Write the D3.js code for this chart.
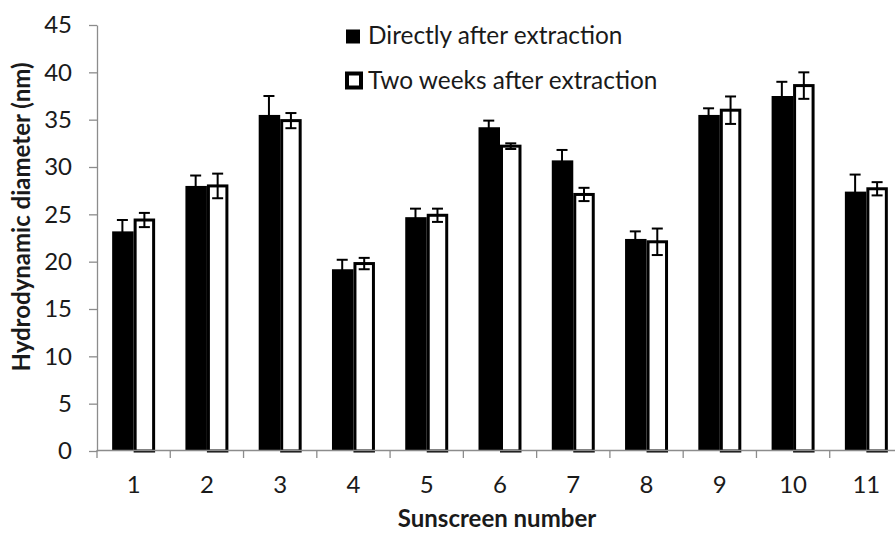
<!DOCTYPE html>
<html>
<head>
<meta charset="utf-8">
<script src="https://cdn.jsdelivr.net/npm/d3@7"></script>
<style>
  html, body { margin: 0; padding: 0; background: #fff; }
  svg { display: block; }
  text { font-family: Lato, "Open Sans", sans-serif; fill: #1a1a1a; }
</style>
</head>
<body>
<svg id="chart" width="895" height="533"></svg>
<script>
const categories = ["1","2","3","4","5","6","7","8","9","10","11"];
const seriesNames = ["Directly after extraction", "Two weeks after extraction"];
const directValues = [23.2, 28.0, 35.5, 19.2, 24.7, 34.2, 30.7, 22.4, 35.5, 37.5, 27.4];
const directErrors = [1.2, 1.1, 2.0, 1.0, 0.9, 0.7, 1.1, 0.8, 0.7, 1.5, 1.8];
const twoWeekValues = [24.4, 28.0, 34.9, 19.8, 24.9, 32.2, 27.1, 22.1, 36.0, 38.6, 27.7];
const twoWeekErrors = [0.75, 1.3, 0.8, 0.6, 0.7, 0.3, 0.7, 1.4, 1.45, 1.4, 0.7];
const yTicks = [0, 5, 10, 15, 20, 25, 30, 35, 40, 45];

const svg = d3.select("#chart");
const mLeft = 97, mRight = 903, mTop = 25, mBottom = 451;

const x = d3.scaleBand().domain(categories).range([mLeft, mRight]).paddingInner(0).paddingOuter(0);
const xs = d3.scaleBand().domain(seriesNames).range([0, x.bandwidth()]).paddingInner(0).paddingOuter(0.705);
const y = d3.scaleLinear().domain([0, 45]).range([mBottom, mTop]);

const rows = categories.map((c, i) => ({
  c,
  vals: [
    { s: seriesNames[0], v: directValues[i], e: directErrors[i] },
    { s: seriesNames[1], v: twoWeekValues[i], e: twoWeekErrors[i] }
  ]
}));

const groups = svg.append("g").selectAll("g").data(rows).join("g")
  .attr("transform", d => `translate(${x(d.c)},0)`);

// black bars
groups.append("rect")
  .attr("x", xs(seriesNames[0]))
  .attr("width", xs.bandwidth())
  .attr("y", d => y(d.vals[0].v))
  .attr("height", d => y(0) - y(d.vals[0].v))
  .attr("fill", "#000");

// white bars with black outline
groups.append("rect")
  .attr("x", xs(seriesNames[1]) + 1.5)
  .attr("width", xs.bandwidth() - 3)
  .attr("y", d => y(d.vals[1].v))
  .attr("height", d => y(0) - y(d.vals[1].v))
  .attr("fill", "#fff")
  .attr("stroke", "#000")
  .attr("stroke-width", 3);

// error bars
const cap = 5.5;
groups.each(function(d) {
  const g = d3.select(this);
  d.vals.forEach((p, j) => {
    const cx = xs(p.s) + xs.bandwidth() / 2 + (j === 1 ? 0 : -0.5);
    const eg = g.append("g").attr("stroke", "#000").attr("stroke-width", 2);
    eg.append("line").attr("x1", cx).attr("x2", cx).attr("y1", y(p.v + p.e)).attr("y2", y(p.v - p.e));
    eg.append("line").attr("x1", cx - cap).attr("x2", cx + cap).attr("y1", y(p.v + p.e)).attr("y2", y(p.v + p.e));
    eg.append("line").attr("x1", cx - cap).attr("x2", cx + cap).attr("y1", y(p.v - p.e)).attr("y2", y(p.v - p.e));
  });
});

// y axis
const yAxis = svg.append("g").attr("transform", `translate(${mLeft},0)`)
  .call(d3.axisLeft(y).tickValues(yTicks).tickSize(8).tickPadding(17).tickSizeOuter(0));
yAxis.select(".domain").attr("stroke", "#8c8c8c").attr("stroke-width", 1.3);
yAxis.selectAll(".tick line").attr("stroke", "#8c8c8c").attr("stroke-width", 1.3);
yAxis.selectAll(".tick text").style("font-size", "24px").attr("fill", "#1a1a1a");

// x axis
const xAxis = svg.append("g").attr("transform", `translate(0,${mBottom - 1})`)
  .call(d3.axisBottom(x).tickSize(0).tickPadding(26));
xAxis.select(".domain").attr("stroke", "#8c8c8c").attr("stroke-width", 1.3);
xAxis.selectAll(".tick text").style("font-size", "24px").attr("fill", "#1a1a1a");
// category boundary ticks
const bounds = categories.map(c => x(c)).concat([x(categories[categories.length - 1]) + x.bandwidth()]);
svg.append("g").selectAll("line").data(bounds).join("line")
  .attr("x1", d => d).attr("x2", d => d)
  .attr("y1", mBottom - 1).attr("y2", mBottom + 7)
  .attr("stroke", "#8c8c8c").attr("stroke-width", 1.3);

// axis titles
svg.append("text")
  .attr("transform", `translate(30,217) rotate(-90)`)
  .attr("text-anchor", "middle")
  .style("font-size", "24px").style("font-weight", "bold")
  .text("Hydrodynamic diameter (nm)");
svg.append("text")
  .attr("x", 497).attr("y", 527)
  .attr("text-anchor", "middle")
  .style("font-size", "24px").style("font-weight", "bold")
  .text("Sunscreen number");

// legend
const lg = svg.append("g");
lg.append("rect").attr("x", 346).attr("y", 29.5).attr("width", 14).attr("height", 14).attr("fill", "#000");
lg.append("rect").attr("x", 347).attr("y", 73.5).attr("width", 14).attr("height", 14)
  .attr("fill", "#fff").attr("stroke", "#000").attr("stroke-width", 4);
lg.append("text").attr("x", 368).attr("y", 43.5).style("font-size", "24.4px").text(seriesNames[0]);
lg.append("text").attr("x", 368).attr("y", 88.5).style("font-size", "24.4px").text(seriesNames[1]);
</script>
</body>
</html>
